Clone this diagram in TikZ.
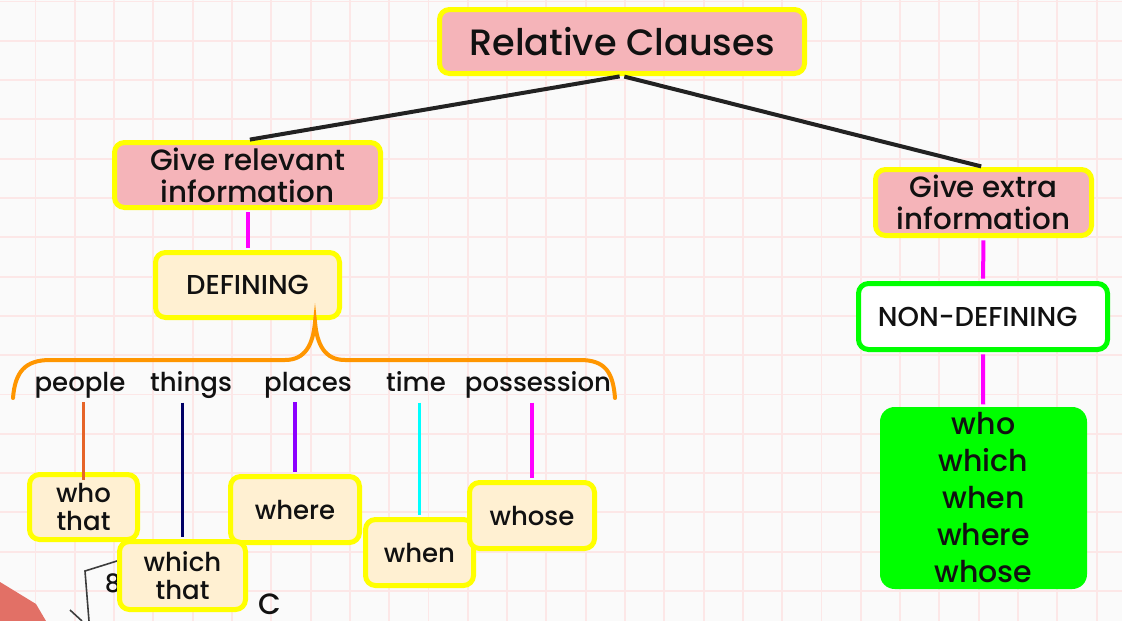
\documentclass[tikz,border=0pt]{standalone}
\usepackage{fontspec}
\setmainfont{Poppins Medium}
\definecolor{paper}{RGB}{250,250,250}
\definecolor{gridc}{RGB}{252,231,231}
\definecolor{textc}{RGB}{17,17,17}
\definecolor{pinkfill}{RGB}{245,180,185}
\definecolor{creamfill}{RGB}{255,240,210}
\definecolor{boxedge}{RGB}{255,255,0}
\definecolor{listgreen}{RGB}{0,255,0}
\definecolor{linkc}{RGB}{34,34,34}
\definecolor{magentac}{RGB}{255,0,255}
\definecolor{bracec}{RGB}{255,150,0}
\definecolor{peoplec}{RGB}{230,100,40}
\definecolor{thingsc}{RGB}{0,0,102}
\definecolor{placesc}{RGB}{140,0,255}
\definecolor{timec}{RGB}{0,255,255}
\definecolor{salmon}{RGB}{226,112,102}
\definecolor{sketchc}{RGB}{60,60,60}

\begin{document}
\begin{tikzpicture}
[x=0.75pt, y=-0.75pt,
 every node/.style={align=center, inner sep=0pt, text=textc},
 box/.style={draw=boxedge, line width=3.75pt, rounded corners=7.5pt},
 pinkbox/.style={box, fill=pinkfill, font=\fontsize{22}{24}\selectfont},
 creambox/.style={box, fill=creamfill, font=\fontsize{19.5}{21}\selectfont},
 word/.style={font=\fontsize{19.5}{22}\selectfont, text depth=8pt},
 link/.style={line width=3pt, shorten <=1.8pt, shorten >=1.8pt}]
% paper with grid
\fill[paper] (0,0) rectangle (1122,621);
\useasboundingbox (0,0) rectangle (1122,621);
\foreach \gx in {0,...,27}
  \draw[gridc, line width=1.4pt] ({35.5+39.3*\gx},0) -- ({35.5+39.3*\gx},621);
\foreach \gy in {0,...,15}
  \draw[gridc, line width=1.4pt] (0,{1.5+39.3*\gy}) -- (1122,{1.5+39.3*\gy});
% bits of a cut off sketch
\fill[salmon] (0,582) -- (36,604) -- (46,621) -- (0,621) -- cycle;
\draw[sketchc, line width=1.2pt] (117,561) -- (85,571) -- (89,621);
\draw[sketchc, line width=1.2pt] (70,610) -- (82,621);
\node (17) at (113,583) [font=\fontsize{19}{19}\selectfont] {8};
\node (18) at (270,604) [font=\fontsize{22}{22}\selectfont] {C};

\node (1) at (622,41.5) [pinkbox, minimum width=273.75pt, minimum height=48pt,
  font=\fontsize{27.5}{30}\selectfont] {Relative Clauses};
\node (2) at (247.5,175) [pinkbox, minimum width=199.5pt, minimum height=48.75pt]
  {Give relevant\\ information};
\node (3) at (983.5,202.5) [pinkbox, minimum width=162pt, minimum height=49.5pt]
  {Give extra\\ information};
\node (4) at (247.5,285) [creambox, minimum width=138pt, minimum height=48.75pt,
  font=\fontsize{20.5}{21}\selectfont] {DEFINING};
\node (5) at (983,316.5) [box, draw=listgreen, fill=white, minimum width=186.75pt,
  minimum height=49.5pt, font=\fontsize{20.5}{21}\selectfont] {NON-DEFINING\hspace{8pt}};
\node (6) at (983.5,498) [fill=listgreen, rounded corners=11pt, minimum width=155.25pt,
  minimum height=136.5pt, font=\fontsize{22.5}{27.75}\selectfont]
  {who\\ which\\ when\\ where\\ whose};

\node (7) at (80,387) [word] {people};
\node (8) at (191,387) [word] {things};
\node (9) at (308,387) [word] {places};
\node (10) at (416,387) [word] {time};
\node (11) at (538,387) [word] {possession};

\node (12) at (83.5,507) [creambox, minimum width=81pt, minimum height=48.75pt] {who\\ that};
\node (14) at (295,509.5) [creambox, minimum width=96.75pt, minimum height=49.5pt] {where};
\node (13) at (182.5,575.5) [creambox, minimum width=94.5pt, minimum height=51pt] {which\\ that};
\node (15) at (419.5,552.5) [creambox, minimum width=81pt, minimum height=49.5pt] {when};
\node (16) at (532,515.5) [creambox, minimum width=93.75pt, minimum height=49.5pt] {whose};

\draw [link, linkc] (1.south) -- (2.north);
\draw [link, linkc] (1.south) -- (3.north);
\draw [link, magentac] (2) -- (4);
\draw [link, magentac] (3) -- (5);
\draw [link, magentac] (5) -- (6);
% brace over the five words
\draw [bracec, line width=3pt, line cap=round]
  (13,398) .. controls (15,372) and (25,360) .. (50,360) -- (285,360)
  .. controls (305,360) and (313,345) .. (315,322)
  .. controls (317,345) and (325,360) .. (345,360) -- (580,360)
  .. controls (605,360) and (613,372) .. (615,398);
\draw [peoplec, line width=2.6pt, shorten >=-6pt] (12.north |- 7.south) -- (12.north);
\draw [thingsc, line width=2.6pt, shorten >=1.8pt] (13.north |- 8.south) -- (13.north);
\draw [placesc, line width=2.6pt, shorten >=1.8pt] (14.north |- 9.south) -- (14.north);
\draw [timec, line width=2.6pt, shorten >=1.8pt] (15.north |- 10.south) -- (15.north);
\draw [magentac, line width=2.6pt, shorten >=1.8pt] (16.north |- 11.south) -- (16.north);
\end{tikzpicture}
\end{document}
